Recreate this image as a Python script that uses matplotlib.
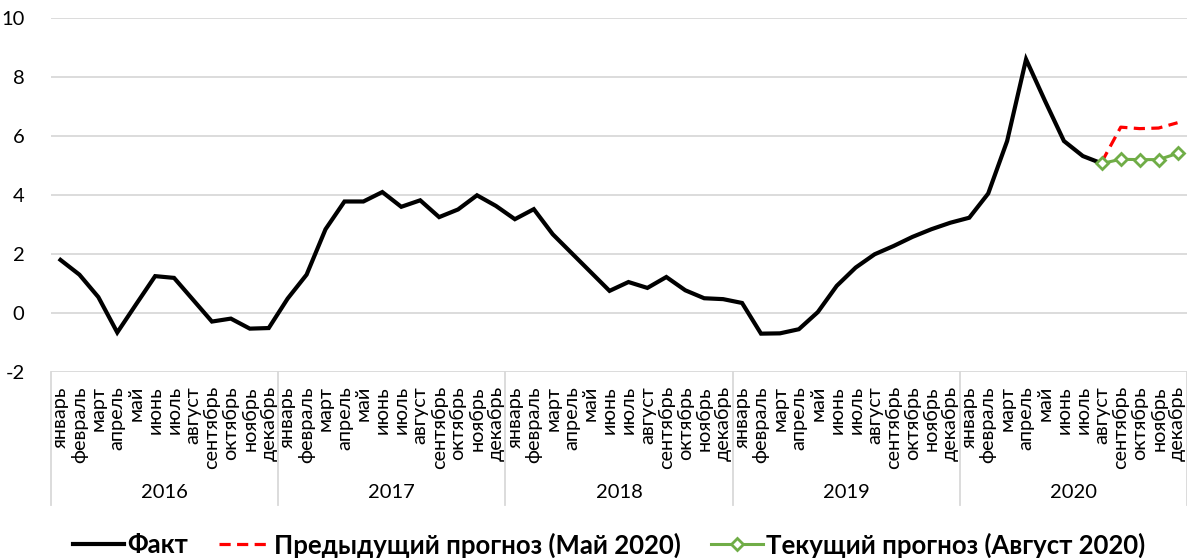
import numpy as np
import matplotlib
matplotlib.use("Agg")
import matplotlib.pyplot as plt
from matplotlib.lines import Line2D
import matplotlib.transforms as mtransforms

plt.rcParams['font.family'] = ['Lato', 'DejaVu Sans']

years = ["2016", "2017", "2018", "2019", "2020"]
months = ["январь", "февраль", "март", "апрель", "май", "июнь", "июль",
          "август", "сентябрь", "октябрь", "ноябрь", "декабрь"]

fact = [1.80, 1.30, 0.54, -0.66, 0.30, 1.25, 1.19, 0.45, -0.29, -0.19, -0.53, -0.51,
        0.49, 1.30, 2.84, 3.78, 3.78, 4.10, 3.60, 3.82, 3.25, 3.51, 3.99, 3.63,
        3.18, 3.52, 2.67, 2.03, 1.39, 0.75, 1.05, 0.85, 1.22, 0.77, 0.50, 0.47,
        0.34, -0.70, -0.69, -0.55, 0.03, 0.92, 1.54, 1.99, 2.27, 2.58, 2.84, 3.06,
        3.23, 4.05, 5.83, 8.60, 7.19, 5.83, 5.32, 5.07]
prev_forecast = [5.12, 6.30, 6.25, 6.27, 6.45]   # Aug-Dec 2020
curr_forecast = [5.07, 5.21, 5.20, 5.20, 5.41]   # Aug-Dec 2020

labels = ["Факт", "Предыдущий прогноз (Май 2020)", "Текущий прогноз (Август 2020)"]

n = len(years) * len(months)
x = np.arange(n)
fact_arr = np.full(n, np.nan); fact_arr[:len(fact)] = fact
prev_arr = np.full(n, np.nan); prev_arr[n - len(prev_forecast):] = prev_forecast
curr_arr = np.full(n, np.nan); curr_arr[n - len(curr_forecast):] = curr_forecast

fig = plt.figure(figsize=(11.87, 5.58), dpi=100)
ax = fig.add_axes([51/1187, 186/558, 1 - 51/1187, (372-18)/558])

ax.plot(x, fact_arr, color='black', lw=3.0, solid_joinstyle='miter', label=labels[0], zorder=3)
ax.plot(x, prev_arr, color='#ff0000', lw=2.3, dashes=(3.5, 2.0), label=labels[1], zorder=4)
ax.plot(x, curr_arr, color='#70ad47', lw=2.2, marker='D', ms=6.5, mfc='white',
        mec='#70ad47', mew=2.0, label=labels[2], zorder=5)

ax.set_xlim(-0.5, n - 0.5)
ax.set_ylim(-2, 10)
ax.set_yticks(np.arange(-2, 11, 2))
ax.set_yticklabels([str(v) for v in range(-2, 11, 2)], fontsize=14.5)
ax.tick_params(axis='y', length=0, pad=19)
ax.grid(axis='y', color='#d9d9d9', lw=1.3)
ax.set_axisbelow(True)
ax.set_xticks([])
for s in ax.spines.values():
    s.set_visible(False)

trans = mtransforms.blended_transform_factory(ax.transData, fig.transFigure)
for i in range(n):
    ax.text(x[i], 1 - 386/558, months[i % 12], rotation=90, ha='center', va='top',
            fontsize=14.3, transform=trans, clip_on=False)
for j, yr in enumerate(years):
    ax.text(j * 12 + 5.5, 1 - 492/558, yr, ha='center', va='center', fontsize=14.5,
            transform=trans)
for j in range(len(years) + 1):
    xb = j * 12 - 0.5
    ax.add_line(Line2D([xb, xb], [1 - 372/558, 1 - 505/558], color='#d9d9d9', lw=1.3,
                       transform=trans, clip_on=False))

fig.legend(loc='center', bbox_to_anchor=(609/1187, 1 - 545/558), ncol=3, frameon=False,
           prop={'weight': 'bold', 'size': 18.5}, handlelength=2.0, handletextpad=0.12,
           columnspacing=1.2, borderaxespad=0)

fig.savefig("out.png", dpi=100)
